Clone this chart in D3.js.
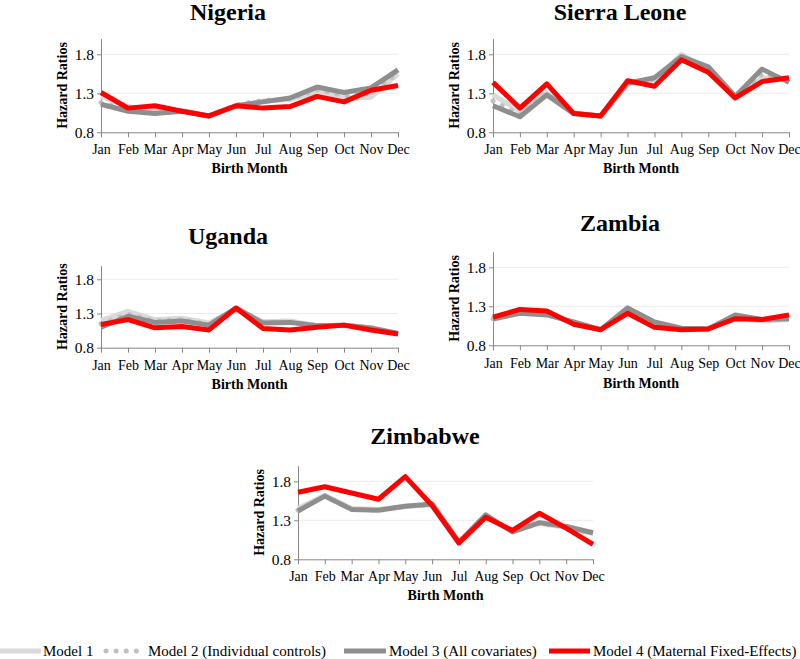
<!DOCTYPE html>
<html><head><meta charset="utf-8">
<script src="https://cdn.jsdelivr.net/npm/d3@7"></script>
<style>
body{margin:0;background:#fff;}
svg{display:block;}
text{font-family:"Liberation Serif","Times New Roman",serif;fill:#000;}
</style></head>
<body><svg id="c" width="800" height="659"></svg>
<script>
const months = ["Jan","Feb","Mar","Apr","May","Jun","Jul","Aug","Sep","Oct","Nov","Dec"];
const yTicks = [0.8, 1.3, 1.8];
const modelNames = ["Model 1","Model 2 (Individual controls)","Model 3 (All covariates)","Model 4 (Maternal Fixed-Effects)"];

const nigeriaM1 = [1.26,1.13,1.08,1.08,1.01,1.13,1.20,1.22,1.32,1.24,1.25,1.55];
const nigeriaM2 = [1.18,1.08,1.05,1.07,1.01,1.15,1.21,1.23,1.35,1.27,1.30,1.56];
const nigeriaM3 = [1.16,1.07,1.04,1.07,1.01,1.14,1.19,1.24,1.38,1.31,1.37,1.60];
const nigeriaM4 = [1.31,1.11,1.14,1.07,1.01,1.14,1.11,1.13,1.26,1.19,1.34,1.40];

const sierraM1 = [1.28,1.07,1.31,1.05,1.01,1.42,1.47,1.80,1.60,1.23,1.50,1.47];
const sierraM2 = [1.20,1.03,1.30,1.04,1.01,1.43,1.48,1.78,1.62,1.25,1.55,1.46];
const sierraM3 = [1.14,1.00,1.28,1.04,1.01,1.43,1.50,1.77,1.64,1.26,1.61,1.44];
const sierraM4 = [1.44,1.11,1.42,1.04,1.01,1.46,1.39,1.73,1.57,1.24,1.45,1.50];

const ugandaM1 = [1.20,1.33,1.21,1.23,1.16,1.36,1.18,1.19,1.12,1.13,1.09,1.01];
const ugandaM2 = [1.15,1.29,1.19,1.21,1.14,1.37,1.17,1.18,1.12,1.13,1.09,1.01];
const ugandaM3 = [1.10,1.26,1.17,1.19,1.13,1.38,1.16,1.17,1.12,1.13,1.09,1.01];
const ugandaM4 = [1.14,1.21,1.09,1.11,1.06,1.38,1.08,1.06,1.10,1.13,1.06,1.00];

const zambiaM1 = [1.13,1.22,1.20,1.09,1.00,1.25,1.07,1.01,1.01,1.16,1.11,1.13];
const zambiaM2 = [1.14,1.22,1.20,1.09,1.00,1.26,1.08,1.01,1.01,1.17,1.12,1.14];
const zambiaM3 = [1.14,1.21,1.19,1.10,1.00,1.28,1.10,1.02,1.01,1.19,1.13,1.14];
const zambiaM4 = [1.16,1.26,1.24,1.07,1.00,1.21,1.03,1.00,1.01,1.14,1.13,1.19];

const zimbabweM1 = [1.45,1.62,1.45,1.44,1.48,1.50,1.02,1.35,1.16,1.26,1.21,1.13];
const zimbabweM2 = [1.43,1.61,1.44,1.43,1.48,1.50,1.02,1.36,1.16,1.26,1.22,1.14];
const zimbabweM3 = [1.42,1.61,1.44,1.43,1.48,1.51,1.02,1.37,1.15,1.27,1.22,1.14];
const zimbabweM4 = [1.66,1.73,1.65,1.57,1.86,1.49,1.01,1.34,1.17,1.39,1.20,0.99];

const styles = [
  {stroke:"#d9d9d9", width:5, dash:null},
  {stroke:"#c0c0c0", width:5, dash:"0.1 10"},
  {stroke:"#8e8e8e", width:5, dash:null},
  {stroke:"#ff0000", width:5, dash:null}
];

const panels = [
  {title:"Nigeria", series:[nigeriaM1,nigeriaM2,nigeriaM3,nigeriaM4], x0:101, x1:398, yb:132.3, pxPer:7.8, titleX:228, titleY:20, ytX:62, monthY:154, bmY:173},
  {title:"Sierra Leone", series:[sierraM1,sierraM2,sierraM3,sierraM4], x0:493, x1:789, yb:132.3, pxPer:7.8, titleX:620, titleY:20, ytX:454, monthY:154, bmY:173},
  {title:"Uganda", series:[ugandaM1,ugandaM2,ugandaM3,ugandaM4], x0:101, x1:398, yb:347.7, pxPer:6.84, titleX:228, titleY:244, ytX:62, monthY:370, bmY:389},
  {title:"Zambia", series:[zambiaM1,zambiaM2,zambiaM3,zambiaM4], x0:493, x1:789, yb:345.3, pxPer:7.8, titleX:620, titleY:231, ytX:454, monthY:368, bmY:388},
  {title:"Zimbabwe", series:[zimbabweM1,zimbabweM2,zimbabweM3,zimbabweM4], x0:298, x1:593, yb:559.3, pxPer:7.8, titleX:425, titleY:444, ytX:259, monthY:581, bmY:600}
];

const svg = d3.select("#c");

panels.forEach(p => {
  const g = svg.append("g");
  const x = d3.scalePoint().domain(months).range([p.x0, p.x1]).padding(0);
  const ytop = p.yb - p.pxPer * 12;
  const y = d3.scaleLinear().domain([0.8, 2.0]).range([p.yb, ytop]);

  g.selectAll("line.grid").data(yTicks.slice(1)).join("line")
    .attr("x1", p.x0).attr("x2", p.x1)
    .attr("y1", d => y(d)).attr("y2", d => y(d))
    .attr("stroke", "#ececec").attr("stroke-width", 1);

  const ya = g.append("g").attr("transform", `translate(${p.x0},0)`)
    .call(d3.axisLeft(y).tickValues(yTicks).tickFormat(d3.format(".1f")).tickSize(4).tickSizeOuter(0));
  ya.attr("font-size", null).attr("font-family", null);
  ya.select(".domain").attr("stroke", "#868686");
  ya.selectAll(".tick line").attr("stroke", "#868686");
  ya.selectAll(".tick text").attr("font-size", 15.5).attr("x", -7);

  const xa = g.append("g").attr("transform", `translate(0,${p.yb})`)
    .call(d3.axisBottom(x).tickSize(5).tickSizeOuter(0));
  xa.attr("font-size", null).attr("font-family", null);
  xa.select(".domain").attr("stroke", "#868686");
  xa.selectAll(".tick line").attr("stroke", "#868686");
  xa.selectAll(".tick text").attr("font-size", 14).attr("dy", null).attr("y", p.monthY - p.yb);

  const line = d3.line().x((d, i) => x(months[i])).y(d => y(d));
  p.series.forEach((s, k) => {
    const st = styles[k];
    const path = g.append("path").datum(s)
      .attr("d", line).attr("fill", "none")
      .attr("stroke", st.stroke).attr("stroke-width", st.width)
      .attr("stroke-linejoin", "round").attr("stroke-linecap", st.dash ? "round" : "butt");
    if (st.dash) path.attr("stroke-dasharray", st.dash);
  });

  g.append("text").attr("x", p.titleX).attr("y", p.titleY).attr("text-anchor", "middle")
    .attr("font-size", 24).attr("font-weight", "bold").text(p.title);
  g.append("text").attr("x", (p.x0 + p.x1) / 2).attr("y", p.bmY).attr("text-anchor", "middle")
    .attr("font-size", 14).attr("font-weight", "bold").text("Birth Month");
  g.append("text").attr("transform", `translate(${p.ytX},${(p.yb + ytop) / 2}) rotate(-90)`)
    .attr("text-anchor", "middle").attr("dy", "0.35em")
    .attr("font-size", 14).attr("font-weight", "bold").text("Hazard Ratios");
});

const legY = 651;
const legItems = [
  {lx0:0, lx1:41, tx:43},
  {lx0:106, lx1:146, tx:148},
  {lx0:344, lx1:386, tx:389},
  {lx0:549, lx1:590, tx:593}
];
const lg = svg.append("g");
legItems.forEach((it, k) => {
  const st = styles[k];
  const l = lg.append("line").attr("x1", it.lx0).attr("x2", it.lx1).attr("y1", legY).attr("y2", legY)
    .attr("stroke", st.stroke).attr("stroke-width", st.width)
    .attr("stroke-linecap", st.dash ? "round" : "butt");
  if (st.dash) l.attr("stroke-dasharray", st.dash);
  lg.append("text").attr("x", it.tx).attr("y", legY).attr("dy", "0.35em")
    .attr("font-size", 15).text(modelNames[k]);
});
</script></body></html>
